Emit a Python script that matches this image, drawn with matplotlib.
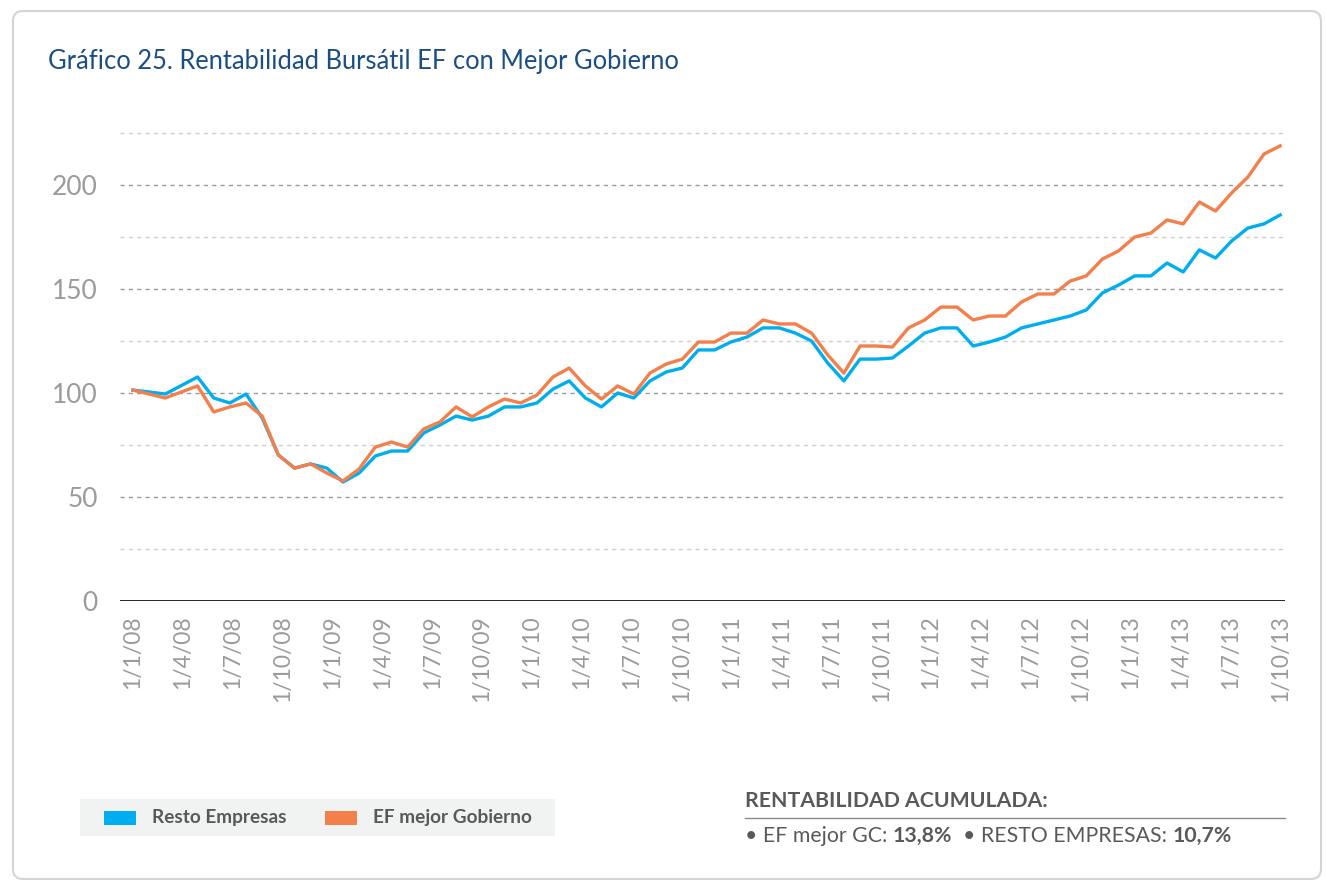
import matplotlib
matplotlib.use("Agg")
import matplotlib.pyplot as plt
from matplotlib.patches import FancyBboxPatch, Rectangle
import numpy as np

# monthly index values (base 100)
resto = [101.4, 100.5, 99.5, 103.6, 107.7, 97.6, 95.2, 99.5, 88.0, 70.2,
         63.9, 65.9, 63.9, 57.2, 61.5, 69.7, 72.1, 72.1, 80.8, 84.6,
         88.9, 87.0, 88.9, 93.3, 93.3, 95.2, 101.9, 105.8, 97.6, 93.3,
         100.0, 97.6, 105.8, 110.1, 112.0, 120.7, 120.7, 124.5, 126.9, 131.3,
         131.3, 128.8, 125.0, 114.4, 105.8, 116.3, 116.3, 116.8, 122.6, 128.8,
         131.3, 131.3, 122.6, 124.5, 126.9, 131.3, 133.2, 135.1, 137.0, 139.9,
         148.1, 151.9, 156.3, 156.3, 162.5, 158.2, 168.8, 164.9, 173.1, 179.3,
         181.3, 185.6]
ef_gob = [101.4, 99.5, 97.6, 100.5, 103.4, 90.9, 93.3, 95.2, 88.9, 70.2,
          63.9, 65.9, 61.5, 57.7, 63.5, 74.0, 76.4, 74.0, 82.7, 86.1,
          93.3, 88.5, 93.3, 97.1, 95.2, 99.0, 107.7, 112.0, 103.4, 97.1,
          103.4, 99.5, 109.6, 113.9, 116.3, 124.5, 124.5, 128.8, 128.8, 135.1,
          133.2, 133.2, 128.8, 118.3, 109.6, 122.6, 122.6, 122.1, 131.3, 135.1,
          141.3, 141.3, 135.1, 137.0, 137.0, 143.8, 147.6, 147.6, 153.8, 156.3,
          164.4, 168.3, 175.0, 176.9, 183.2, 181.3, 191.8, 187.5, 196.2, 203.8,
          214.9, 218.8]
quarter_labels = ["1/1/08", "1/4/08", "1/7/08", "1/10/08",
                  "1/1/09", "1/4/09", "1/7/09", "1/10/09",
                  "1/1/10", "1/4/10", "1/7/10", "1/10/10",
                  "1/1/11", "1/4/11", "1/7/11", "1/10/11",
                  "1/1/12", "1/4/12", "1/7/12", "1/10/12",
                  "1/1/13", "1/4/13", "1/7/13", "1/10/13"]
y_ticks = [0, 50, 100, 150, 200]
grid_levels = [25, 50, 75, 100, 125, 150, 175, 200, 225]

BLUE = "#00aeef"
ORANGE = "#f37f4b"
TICK_TXT = "#9b9b9b"
DARK_TXT = "#58595b"

plt.rcParams['font.family'] = ['Lato', 'DejaVu Sans']

W, H = 1326, 884
fig = plt.figure(figsize=(W / 100, H / 100), dpi=100)

def fx(px):
    return px / W

def fy(py):
    return 1 - py / H

# card frame
card = FancyBboxPatch((0.13, 0.05), 13.08, 8.68, boxstyle="round,pad=0,rounding_size=0.1",
                      transform=fig.dpi_scale_trans, facecolor="white",
                      edgecolor="#d4d4d4", lw=1.5, zorder=-5)
fig.patches.append(card)

fig.text(fx(48), fy(62), "Gráfico 25. Rentabilidad Bursátil EF con Mejor Gobierno",
         color="#1b4f82", fontsize=18.4, va="center", ha="left")

ax = fig.add_axes([fx(120), fy(601), fx(1285) - fx(120), fy(122.6) - fy(601)])
ax.patch.set_alpha(0)

x = np.arange(len(resto))
ax.plot(x, resto, color=BLUE, lw=2.4, label="Resto Empresas", zorder=3)
ax.plot(x, ef_gob, color=ORANGE, lw=2.4, label="EF mejor Gobierno", zorder=4)

for lev in grid_levels:
    ax.axhline(lev, color="#9a9a9a" if lev % 50 == 0 else "#cfcfcf",
               ls=(0, (3, 3)), lw=1, zorder=1)
ax.axhline(0, color="black", lw=1.2, zorder=2)

ax.set_xlim(-0.8, len(resto) - 1 + 0.3)
ax.set_ylim(0, 230)
for s in ax.spines.values():
    s.set_visible(False)

ax.set_yticks(y_ticks)
ax.set_yticklabels([str(v) for v in y_ticks])
ax.tick_params(axis="y", length=0, pad=16, labelsize=19, labelcolor=TICK_TXT)
ax.set_xticks(np.linspace(0, len(resto) - 1, len(quarter_labels)))
ax.set_xticklabels(quarter_labels, rotation=90, ha="center", va="top")
ax.tick_params(axis="x", length=0, pad=10, labelsize=16.5, labelcolor=TICK_TXT)

# legend strip
fig.patches.append(Rectangle((fx(80), fy(836)), fx(555) - fx(80), fy(799) - fy(836),
                             transform=fig.transFigure, facecolor="#f1f2f2",
                             edgecolor="none", zorder=-1))
for (x0, x1, col, lab) in [(104, 136, BLUE, "Resto Empresas"),
                           (325, 357, ORANGE, "EF mejor Gobierno")]:
    fig.patches.append(Rectangle((fx(x0), fy(825)), fx(x1) - fx(x0), fy(811) - fy(825),
                                 transform=fig.transFigure, facecolor=col,
                                 edgecolor="none"))
    fig.text(fx(x1 + 16), fy(818), lab, color=DARK_TXT, fontsize=13.7,
             fontweight="bold", va="center", ha="left")

# accumulated return note
fig.text(fx(745), fy(801), "RENTABILIDAD ACUMULADA:", color=DARK_TXT,
         fontsize=15.3, fontweight="bold", va="center", ha="left")
fig.add_artist(plt.Line2D([fx(745), fx(1285)], [fy(818), fy(818)],
                          color="#8a8a8a", lw=1, transform=fig.transFigure))

pieces = [("• EF mejor GC: ", "normal"), ("13,8%", "bold"),
          ("  • RESTO EMPRESAS: ", "normal"), ("10,7%", "bold")]
fig.canvas.draw()
renderer = fig.canvas.get_renderer()
cur = 745
for txt, wt in pieces:
    t = fig.text(fx(cur), fy(836), txt, color=DARK_TXT, fontsize=15.3,
                 fontweight=wt, va="center", ha="left")
    bb = t.get_window_extent(renderer=renderer)
    cur += bb.width

fig.savefig("out.png", dpi=100)
